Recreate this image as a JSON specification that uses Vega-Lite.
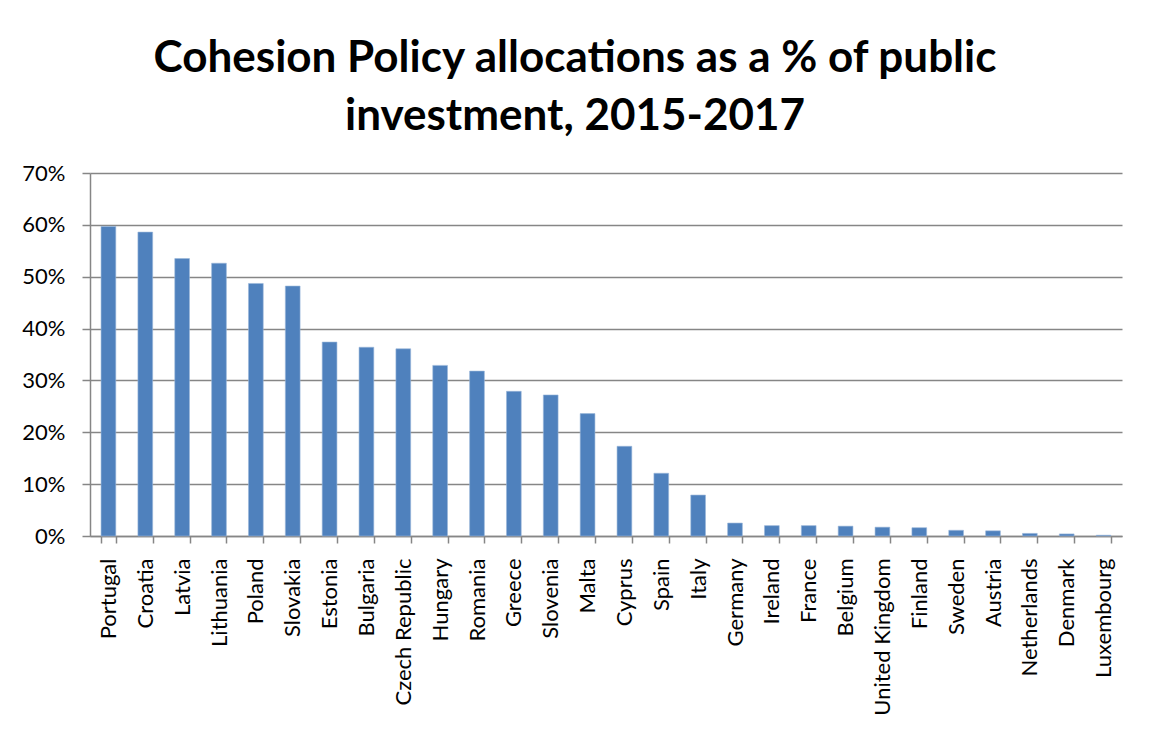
{
  "$schema": "https://vega.github.io/schema/vega-lite/v6.json",
  "autosize": {"type": "none"},
  "width": 1032,
  "height": 363,
  "padding": {"left": 90, "top": 173, "right": 28, "bottom": 216},
  "background": "white",
  "title": {
    "text": ["Cohesion Policy allocations as a % of public", "investment, 2015-2017"],
    "font": "Lato",
    "fontSize": 44,
    "fontWeight": "bold",
    "color": "#000000",
    "lineHeight": 58,
    "anchor": "middle",
    "frame": "group",
    "dx": -31,
    "offset": 23
  },
  "data": {
    "values": [
      {"country": "Portugal", "value": 59.7},
      {"country": "Croatia", "value": 58.6},
      {"country": "Latvia", "value": 53.5},
      {"country": "Lithuania", "value": 52.6},
      {"country": "Poland", "value": 48.7},
      {"country": "Slovakia", "value": 48.2},
      {"country": "Estonia", "value": 37.4},
      {"country": "Bulgaria", "value": 36.4},
      {"country": "Czech Republic", "value": 36.1},
      {"country": "Hungary", "value": 32.9},
      {"country": "Romania", "value": 31.8},
      {"country": "Greece", "value": 27.9},
      {"country": "Slovenia", "value": 27.2},
      {"country": "Malta", "value": 23.6},
      {"country": "Cyprus", "value": 17.3},
      {"country": "Spain", "value": 12.1},
      {"country": "Italy", "value": 7.9},
      {"country": "Germany", "value": 2.5},
      {"country": "Ireland", "value": 2.0},
      {"country": "France", "value": 2.0},
      {"country": "Belgium", "value": 1.9},
      {"country": "United Kingdom", "value": 1.7},
      {"country": "Finland", "value": 1.6},
      {"country": "Sweden", "value": 1.1},
      {"country": "Austria", "value": 1.0},
      {"country": "Netherlands", "value": 0.5},
      {"country": "Denmark", "value": 0.4},
      {"country": "Luxembourg", "value": 0.15}
    ]
  },
  "mark": {"type": "bar", "color": "#4F81BD", "stroke": "#9BB7DA", "strokeWidth": 0.6},
  "encoding": {
    "x": {
      "field": "country",
      "type": "nominal",
      "sort": null,
      "scale": {"paddingInner": 0.6, "paddingOuter": 0.3},
      "axis": {
        "orient": "bottom",
        "title": null,
        "labelAngle": -90,
        "labelFont": "Lato",
        "labelFontSize": 22,
        "labelColor": "#000000",
        "labelPadding": 15,
        "ticks": true,
        "tickBand": "extent",
        "tickSize": 7,
        "tickColor": "#868686",
        "tickWidth": 1.5,
        "domain": true,
        "domainColor": "#868686",
        "domainWidth": 1.5,
        "grid": false
      }
    },
    "y": {
      "field": "value",
      "type": "quantitative",
      "scale": {"domain": [0, 70], "nice": false},
      "axis": {
        "title": null,
        "values": [0, 10, 20, 30, 40, 50, 60, 70],
        "labelExpr": "datum.value + '%'",
        "labelFont": "Lato",
        "labelFontSize": 22,
        "labelColor": "#000000",
        "labelPadding": 17,
        "tickSize": 8,
        "tickColor": "#868686",
        "tickWidth": 1.5,
        "domainColor": "#868686",
        "domainWidth": 1.5,
        "gridColor": "#868686",
        "gridWidth": 1.5,
        "gridOpacity": 1
      }
    }
  },
  "config": {
    "view": {"stroke": null}
  }
}
